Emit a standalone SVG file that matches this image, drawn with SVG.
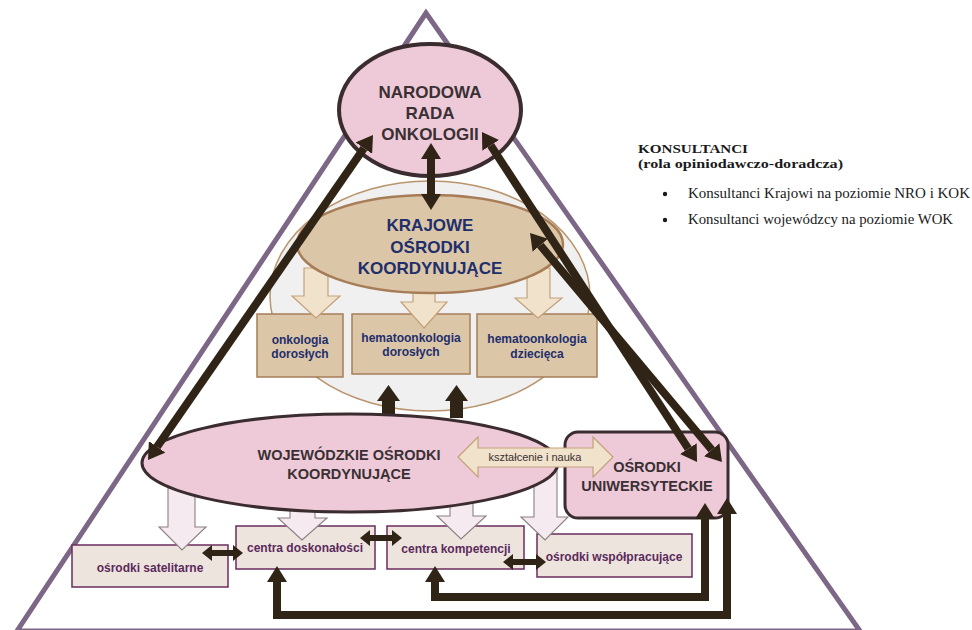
<svg xmlns="http://www.w3.org/2000/svg" width="972" height="630" viewBox="0 0 972 630">
  <defs>
    <style>
      .sans { font-family: "Liberation Sans", Arial, sans-serif; font-weight: bold; text-anchor: middle; }
      .serif { font-family: "Liberation Serif", "Times New Roman", serif; fill: #1a1a1a; }
      .t-dark { fill: #3a3034; }
      .t-navy { fill: #1e2f6c; }
      .t-plum { fill: #5b2a5c; }
      .pink { fill: #eecad8; stroke: #3b2c2f; }
      .tan { fill: #dcc6a8; stroke: #a77d58; }
      .lowbox { fill: #eee4de; stroke: #6b2d5e; stroke-width: 1.5; }
      .tanarrow { fill: #f0e2cb; stroke: #c4a17a; stroke-width: 1.2; }
      .pinkarrow { fill: #f6eaf1; stroke: #8c7f80; stroke-width: 1.1; }
      .link { fill: none; stroke: #2f2416; stroke-linejoin: miter; }
      .big { stroke-width: 8; marker-start: url(#head); marker-end: url(#head); }
      .small { stroke-width: 6; marker-start: url(#headSm); marker-end: url(#headSm); }
    </style>
    <marker id="head" markerUnits="userSpaceOnUse" viewBox="0 0 16 20" refX="0" refY="10" markerWidth="16" markerHeight="20" orient="auto-start-reverse">
      <path d="M0,0 L16,10 L0,20 z" fill="#2f2416"/>
    </marker>
    <marker id="headSm" markerUnits="userSpaceOnUse" viewBox="0 0 10 16" refX="0" refY="8" markerWidth="10" markerHeight="16" orient="auto-start-reverse">
      <path d="M0,0 L10,8 L0,16 z" fill="#2f2416"/>
    </marker>
  </defs>

  <rect width="972" height="630" fill="#ffffff"/>

  <!-- pyramid outline -->
  <polygon points="426,13 17,631 860,631" fill="none" stroke="#7d6787" stroke-width="5" stroke-linejoin="miter"/>

  <!-- national level: grey backdrop of the coordinating centres -->
  <ellipse cx="430" cy="296" rx="160" ry="115" fill="#f1f0f0" stroke="#b8956c" stroke-width="1.5"/>

  <g id="onkologia-doroslych">
    <rect x="257" y="314" width="86" height="63" class="tan" stroke-width="1.5"/>
    <text class="sans t-navy" font-size="12" x="300" y="344">onkologia</text>
    <text class="sans t-navy" font-size="12" x="300" y="358">dorosłych</text>
  </g>
  <g id="hematoonkologia-doroslych">
    <rect x="352" y="314" width="118" height="60" class="tan" stroke-width="1.5"/>
    <text class="sans t-navy" font-size="12" x="411" y="342">hematoonkologia</text>
    <text class="sans t-navy" font-size="12" x="411" y="356">dorosłych</text>
  </g>
  <g id="hematoonkologia-dziecieca">
    <rect x="477" y="314" width="120" height="63" class="tan" stroke-width="1.5"/>
    <text class="sans t-navy" font-size="12" x="537" y="343">hematoonkologia</text>
    <text class="sans t-navy" font-size="12" x="537" y="358">dziecięca</text>
  </g>

  <!-- KOK down to specialities -->
  <g id="kok-block-arrows">
    <polygon class="tanarrow" points="304,268 328,268 328,296 340,296 316,318 292,296 304,296"/>
    <polygon class="tanarrow" points="413,280 435,280 435,302 447,302 424,328 401,302 413,302"/>
    <polygon class="tanarrow" points="527,268 550,268 550,298 562,298 538,318 515,298 527,298"/>
  </g>

  <g id="kok">
    <ellipse cx="430" cy="244" rx="133" ry="49" class="tan" stroke-width="2.5"/>
    <text class="sans t-navy" font-size="17" x="430" y="231">KRAJOWE</text>
    <text class="sans t-navy" font-size="17" x="430" y="253">OŚRODKI</text>
    <text class="sans t-navy" font-size="17" x="430" y="274">KOORDYNUJĄCE</text>
  </g>

  <g id="nro">
    <ellipse cx="430" cy="110" rx="91" ry="66" class="pink" stroke-width="4"/>
    <text class="sans t-dark" font-size="17" x="430" y="98">NARODOWA</text>
    <text class="sans t-dark" font-size="17" x="430" y="119">RADA</text>
    <text class="sans t-dark" font-size="17" x="430" y="140">ONKOLOGII</text>
  </g>

  <!-- regional level -->
  <g id="osrodki-satelitarne">
    <rect x="72" y="545" width="156" height="42" class="lowbox"/>
    <text class="sans t-plum" font-size="12" x="150" y="572">ośrodki satelitarne</text>
  </g>
  <g id="centra-doskonalosci">
    <rect x="236" y="526" width="139" height="43" class="lowbox"/>
    <text class="sans t-plum" font-size="12" x="305" y="552">centra doskonałości</text>
  </g>
  <g id="centra-kompetencji">
    <rect x="387" y="526" width="137" height="43" class="lowbox"/>
    <text class="sans t-plum" font-size="12" x="456" y="553">centra kompetencji</text>
  </g>
  <g id="osrodki-wspolpracujace">
    <rect x="537" y="534" width="155" height="43" class="lowbox"/>
    <text class="sans t-plum" font-size="12" x="614" y="561">ośrodki współpracujące</text>
  </g>

  <!-- WOK down to regional units -->
  <g id="wok-block-arrows">
    <polygon class="pinkarrow" points="168,488 195,488 195,527 206,527 182,550 159,527 168,527"/>
    <polygon class="pinkarrow" points="290,498 315,498 315,518 327,518 302,540 278,518 290,518"/>
    <polygon class="pinkarrow" points="450,498 473,498 473,516 486,516 461,539 437,516 450,516"/>
    <polygon class="pinkarrow" points="534,470 557,470 557,517 568,517 545,540 521,517 534,517"/>
  </g>

  <!-- WOK up to the national centres -->
  <g id="wok-up-arrows" fill="#2f2416">
    <polygon points="382,418 395,418 395,401 400,401 388.5,385 377,401 382,401"/>
    <polygon points="450,418 463,418 463,401 468,401 456.5,385 445,401 450,401"/>
  </g>

  <g id="wok">
    <ellipse cx="350" cy="463" rx="208" ry="49" class="pink" stroke-width="3"/>
    <text class="sans t-dark" font-size="14.5" x="349" y="460">WOJEWÓDZKIE OŚRODKI</text>
    <text class="sans t-dark" font-size="14.5" x="349" y="479">KOORDYNUJĄCE</text>
  </g>

  <g id="osrodki-uniwersyteckie">
    <rect x="565" y="432" width="163" height="86" rx="13" class="pink" stroke-width="3"/>
    <text class="sans t-dark" font-size="14.5" x="647" y="472">OŚRODKI</text>
    <text class="sans t-dark" font-size="14.5" x="647" y="491">UNIWERSYTECKIE</text>
  </g>

  <g id="ksztalcenie-i-nauka">
    <polygon class="tanarrow" points="458,457 478,437 478,448 593,448 593,437 613,457 593,477 593,467 478,467 478,477"/>
    <text font-family="Liberation Sans, Arial, sans-serif" font-size="11" fill="#3a3034" text-anchor="middle" x="535" y="461">kształcenie i nauka</text>
  </g>

  <!-- connectors -->
  <g id="connectors">
    <line class="link big" x1="157.1" y1="446.8" x2="363.9" y2="148.2"/>
    <line class="link big" x1="490.7" y1="145.4" x2="688.3" y2="448.6"/>
    <line class="link big" x1="540.3" y1="245.3" x2="711.7" y2="449.7"/>
    <line class="link big" x1="431" y1="159" x2="431" y2="194"/>
    <polyline class="link big" points="435,582 435,597 705,597 705,519"/>
    <polyline class="link big" points="277,582 277,615 727,615 727,514"/>
    <line class="link small" x1="212" y1="553" x2="233" y2="553"/>
    <line class="link small" x1="370" y1="538" x2="392" y2="538"/>
    <line class="link small" x1="513" y1="562" x2="536" y2="562"/>
  </g>

  <!-- consultants legend -->
  <g id="konsultanci">
    <text class="serif" font-weight="bold" font-size="13" x="638" y="153" textLength="110" lengthAdjust="spacingAndGlyphs">KONSULTANCI</text>
    <text class="serif" font-weight="bold" font-size="13" x="638" y="168" textLength="205" lengthAdjust="spacingAndGlyphs">(rola opiniodawczo-doradcza)</text>
    <circle cx="665" cy="194" r="2.2" fill="#1a1a1a"/>
    <text class="serif" font-size="14" x="688" y="198" textLength="282" lengthAdjust="spacingAndGlyphs">Konsultanci Krajowi na poziomie NRO i KOK</text>
    <circle cx="665" cy="220" r="2.2" fill="#1a1a1a"/>
    <text class="serif" font-size="14" x="688" y="224" textLength="265" lengthAdjust="spacingAndGlyphs">Konsultanci wojewódzcy na poziomie WOK</text>
  </g>
</svg>
